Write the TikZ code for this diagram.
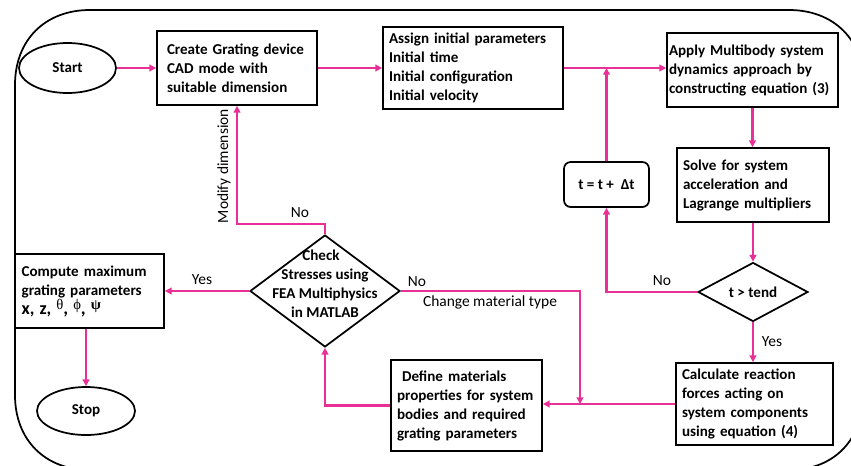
\documentclass[tikz,border=0pt]{standalone}
\usepackage{fontspec}
\setmainfont{Carlito}
\newfontfamily\greekserif{Liberation Serif}
\usetikzlibrary{shapes.geometric,arrows.meta,positioning,calc}
\definecolor{flowpink}{RGB}{232,48,150}
\tikzset{
  boxstyle/.style={draw=black,line width=1.3pt,rectangle,inner ysep=2pt,align=left,
    font=\fontsize{11.3}{14.25}\selectfont\bfseries},
  ovalstyle/.style={draw=black,line width=1.3pt,ellipse,inner sep=0pt,
    font=\fontsize{11.3}{14.25}\selectfont\bfseries},
  diamondstyle/.style={draw=black,line width=1.3pt,diamond,inner sep=0pt},
  dtext/.style={align=center,inner sep=0pt,font=\fontsize{11.3}{14.25}\selectfont\bfseries},
  flow/.style={draw=flowpink,line width=1.6pt,-{Triangle[length=5pt,width=5pt]}},
  lbl/.style={inner sep=0pt,font=\fontsize{11.6}{13}\selectfont},
}
\newcommand{\greekup}[1]{\raisebox{3.5pt}{\greekserif\fontsize{11}{12}\selectfont #1}}
\begin{document}
\begin{tikzpicture}[x=0.75pt,y=-0.75pt]
\useasboundingbox (0,0) rectangle (851,465);
\begin{scope}
\clip (0,0) rectangle (851,465);
\draw[line width=1.3pt] (15,85) .. controls (15,40) and (45,10) .. (90,10) -- (789,10)
  .. controls (834,10) and (864,40) .. (864,85) -- (864,390)
  .. controls (864,440) and (834,470) .. (789,470) -- (90,470)
  .. controls (45,470) and (15,440) .. (15,395) -- cycle;
\end{scope}

% nodes
\node[ovalstyle,minimum width=72.75pt,minimum height=37.5pt] (start) at (67.5,68) {Start};
\node[boxstyle,inner xsep=7.5pt,text width=105pt,minimum height=55.5pt] (create) at (237,68)
  {Create Grating device\\CAD mode with\\suitable dimension};
\node[boxstyle,inner xsep=4.5pt,text width=126pt,minimum height=61.5pt] (assign) at (473,68)
  {Assign initial parameters\\Initial time\\Initial configuration\\Initial velocity};
\node[boxstyle,inner xsep=1.5pt,text width=125.25pt,minimum height=55.5pt] (apply) at (752.5,70)
  {Apply Multibody system\\dynamics approach by\\constructing equation (3)};
\node[boxstyle,inner xsep=4.5pt,text width=105pt,minimum height=55.5pt] (solve) at (753,185)
  {Solve for system\\acceleration and\\Lagrange multipliers};
\node[boxstyle,rounded corners=5pt,align=center,minimum width=63.75pt,minimum height=33.75pt] (tbox) at (606.5,184.5)
  {t = t +\ \ Δt};
\node[diamondstyle,minimum width=82.5pt,minimum height=44.25pt] (tend) at (753,292) {};
\node[dtext] (tendtext) at (tend.center) {t > tend};
\node[boxstyle,inner xsep=4.5pt,text width=108.75pt,minimum height=61.5pt] (calc) at (754.5,404)
  {Calculate reaction\\forces acting on\\system components\\using equation (4)};
\node[boxstyle,inner xsep=4.5pt,text width=104.25pt,minimum height=68.25pt] (define) at (466.5,405.5)
  {\ Define materials\\properties for system\\bodies and required\\grating parameters};
\node[diamondstyle,minimum width=112.5pt,minimum height=84pt] (check) at (325,291) {};
\node[dtext] (checktext) at (325,284)
  {\hspace*{-6pt}Check\\Stresses using\\FEA Multiphysics\\in MATLAB};
\node[boxstyle,inner xsep=5pt,text width=101.75pt,minimum height=55.5pt] (compute) at (89.5,291)
  {Compute maximum\\grating parameters\\{\fontsize{13.5}{14.25}\selectfont x, z,} \greekup{\mdseries θ}{\fontsize{14}{14.25}\selectfont,} \greekup{\mdseries ϕ}{\fontsize{14}{14.25}\selectfont,} \greekup{ψ}};
\node[ovalstyle,minimum width=73.5pt,minimum height=36pt] (stop) at (86,411) {Stop};

\coordinate (cm) at (580,404);

% connectors
\draw[flow] (start.east) -- (create.west);
\draw[flow] (create.east) -- (assign.west);
\draw[flow] (assign.east) -- (assign.east -| apply.west);
\draw[flow] (apply.south) -- (apply.south |- solve.north);
\draw[flow] (solve.south) -- (solve.south |- tend.north);
\draw[flow] (tend.west) -| (tbox.south);
\draw[flow] (tbox.north) -- (tbox.north |- assign.east);
\draw[flow] (tend.south) -- (tend.south |- calc.north);
\draw[flow] (calc.west) -- (calc.west -| define.east);
\draw[flow] (check.east) -| (cm);
\draw[flow] (define.west) -| (check.south);
\draw[flow] (check.north) -- ++(0,-10) -| (create.south);
\draw[flow] (check.west) -- (compute.east);
\draw[flow] (stop.north |- compute.south) -- (stop.north);

% labels
\node[lbl] at (300,213) {No};
\node[lbl,rotate=90] at (224,166) {Modify dimension};
\node[lbl] at (202,280) {Yes};
\node[lbl] at (417,282) {No};
\node[lbl] at (490,302) {Change material type};
\node[lbl] at (662,281) {No};
\node[lbl] at (772,342) {Yes};
\end{tikzpicture}
\end{document}
